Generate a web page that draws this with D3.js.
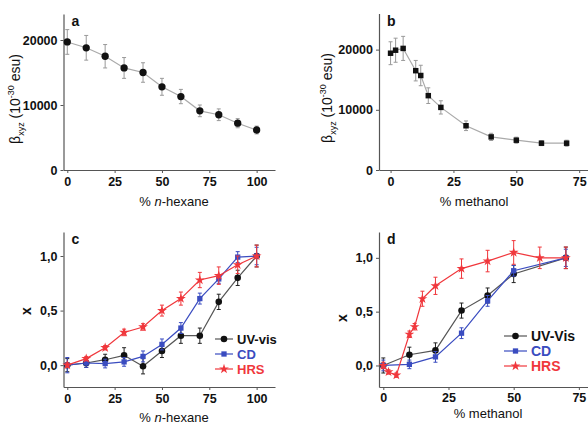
<!DOCTYPE html>
<html>
<head>
<meta charset="utf-8">
<script src="https://cdn.jsdelivr.net/npm/d3@7"></script>
<style>
  body { margin: 0; background: #fff; }
  svg text { font-family: "Liberation Sans", Arial, sans-serif; }
</style>
</head>
<body>
<svg id="chart" width="588" height="425"></svg>
<script>
// panel a: beta vs % n-hexane
const hexX = [0, 10, 20, 30, 40, 50, 60, 70, 80, 90, 100];
const betaHex = [19700, 18800, 17500, 15700, 15000, 12800, 11300, 9100, 8500, 7200, 6150];
const betaHexErr = [1900, 1900, 1800, 1600, 1500, 1300, 1100, 900, 900, 700, 600];

// panel b: beta vs % methanol
const methX = [0, 2, 5, 10, 12, 15, 20, 30, 40, 50, 60, 70];
const betaMeth = [19400, 19900, 20200, 16500, 15700, 12350, 10400, 7350, 5500, 4950, 4450, 4450];
const betaMethErr = [1900, 2000, 2000, 1700, 1700, 1300, 1100, 800, 600, 500, 400, 500];

// panel c: fraction x vs % n-hexane
const uvHex = [0, 0.02, 0.05, 0.09, -0.01, 0.13, 0.27, 0.27, 0.58, 0.80, 1.0];
const uvHexErr = [0.06, 0.04, 0.05, 0.07, 0.07, 0.06, 0.07, 0.07, 0.07, 0.07, 0.1];
const cdHex = [0, 0.02, 0.015, 0.03, 0.08, 0.19, 0.34, 0.61, 0.79, 0.99, 1.0];
const cdHexErr = [0.07, 0.04, 0.04, 0.04, 0.05, 0.05, 0.05, 0.05, 0.04, 0.05, 0.08];
const hrsHex = [0, 0.06, 0.16, 0.30, 0.35, 0.50, 0.61, 0.78, 0.82, 0.92, 1.0];
const hrsHexErr = [0.02, 0.02, 0.02, 0.03, 0.03, 0.05, 0.06, 0.07, 0.08, 0.08, 0.1];

// panel d: fraction x vs % methanol
const specMethX = [0, 10, 20, 30, 40, 50, 70];
const uvMeth = [0, 0.10, 0.14, 0.51, 0.65, 0.85, 1.0];
const uvMethErr = [0.07, 0.07, 0.07, 0.07, 0.07, 0.08, 0.1];
const cdMeth = [0, 0.01, 0.08, 0.30, 0.60, 0.88, 1.0];
const cdMethErr = [0.05, 0.04, 0.05, 0.05, 0.05, 0.05, 0.08];
const hrsMethX = [0, 2, 5, 10, 12, 15, 20, 30, 40, 50, 60, 70];
const hrsMeth = [0, -0.06, -0.09, 0.29, 0.36, 0.62, 0.74, 0.90, 0.97, 1.05, 1.0, 1.0];
const hrsMethErr = [0.03, 0.02, 0.02, 0.03, 0.03, 0.07, 0.08, 0.09, 0.1, 0.11, 0.1, 0.1];

const hexTicks = [0, 25, 50, 75, 100];
const methTicks = [0, 25, 50, 75];
const betaTicks = [0, 10000, 20000];
const fracTicks = [0, 0.5, 1.0];
const seriesNames = ["UV-vis", "CD", "HRS"];
const seriesNamesD = ["UV-Vis", "CD", "HRS"];

const svg = d3.select("#chart");
const axisColor = "#555";
const fmtFrac = d => d3.format(".1f")(d).replace(".", ",");

function panel(p) {
  const g = svg.append("g");
  const x = d3.scaleLinear().domain(p.xDomain).range(p.xRange);
  const y = d3.scaleLinear().domain(p.yDomain).range(p.yRange);

  const xAxis = g.append("g")
    .attr("transform", "translate(0," + p.yRange[0] + ")")
    .call(d3.axisBottom(x).tickValues(p.xTicks).tickSize(3).tickPadding(p.xPad || 4).tickSizeOuter(0));
  const yAxis = g.append("g")
    .attr("transform", "translate(" + p.xRange[0] + ",0)")
    .call(d3.axisLeft(y).tickValues(p.yTicks).tickSize(3).tickPadding(3).tickSizeOuter(0).tickFormat(p.yFormat));
  [xAxis, yAxis].forEach(a => {
    a.select(".domain").attr("stroke", axisColor).attr("stroke-width", 1.2);
    a.selectAll(".tick line").attr("stroke", axisColor);
    a.selectAll(".tick text").attr("fill", "#111").attr("font-size", 12.5).attr("font-weight", "bold");
  });

  p.series.forEach(s => {
    const pts = s.xs.map((xv, i) => ({x: xv, y: s.ys[i], e: s.err[i]}));
    const line = d3.line().x(d => x(d.x)).y(d => y(d.y));
    g.append("path").attr("d", line(pts))
      .attr("fill", "none").attr("stroke", s.lineColor).attr("stroke-width", 1.2);
    const eb = g.append("g").attr("stroke", s.errColor).attr("stroke-width", 1);
    pts.forEach(d => {
      eb.append("line").attr("x1", x(d.x)).attr("x2", x(d.x)).attr("y1", y(d.y - d.e)).attr("y2", y(d.y + d.e));
      eb.append("line").attr("x1", x(d.x) - 2).attr("x2", x(d.x) + 2).attr("y1", y(d.y - d.e)).attr("y2", y(d.y - d.e));
      eb.append("line").attr("x1", x(d.x) - 2).attr("x2", x(d.x) + 2).attr("y1", y(d.y + d.e)).attr("y2", y(d.y + d.e));
    });
    g.append("g").selectAll("path").data(pts).join("path")
      .attr("transform", d => "translate(" + x(d.x) + "," + y(d.y) + ")")
      .attr("d", d3.symbol().type(s.symbol).size(s.size))
      .attr("fill", s.color);
  });

  // panel letter
  g.append("text").attr("x", p.xRange[0] + 8).attr("y", p.yRange[1] + 12)
    .attr("font-size", 14).attr("font-weight", "bold").attr("fill", "#111").text(p.letter);

  // x title
  const xt = g.append("text").attr("x", p.xTitlePos[0]).attr("y", p.xTitlePos[1])
    .attr("text-anchor", "middle").attr("font-size", 13).attr("fill", "#111");
  p.xTitle(xt);

  // y title
  const yt = g.append("text")
    .attr("transform", "translate(" + p.yTitlePos[0] + "," + p.yTitlePos[1] + ") rotate(-90)")
    .attr("text-anchor", "middle").attr("font-size", 14).attr("fill", "#111");
  p.yTitle(yt);

  if (p.legend) {
    p.series.forEach((s, i) => {
      const ly = p.legend.y + i * p.legend.step;
      g.append("line").attr("x1", p.legend.x).attr("x2", p.legend.x + p.legend.len)
        .attr("y1", ly).attr("y2", ly).attr("stroke", s.lineColor).attr("stroke-width", 1.2);
      g.append("path").attr("transform", "translate(" + (p.legend.x + p.legend.len / 2) + "," + ly + ")")
        .attr("d", d3.symbol().type(s.symbol).size(s.size)).attr("fill", s.color);
      g.append("text").attr("x", p.legend.x + p.legend.len + 4).attr("y", ly + 5)
        .attr("font-size", p.legend.font).attr("font-weight", "bold").attr("fill", s.color).text(p.legend.names[i]);
    });
  }
}

function hexTitle(t) {
  t.append("tspan").text("% ");
  t.append("tspan").attr("font-style", "italic").text("n");
  t.append("tspan").text("-hexane");
}
function methTitle(t) { t.text("% methanol"); }
function betaTitle(t) {
  t.append("tspan").text("\u03B2");
  t.append("tspan").attr("font-size", 9).attr("dy", 4).text("xyz");
  t.append("tspan").attr("dy", -4).text(" (10");
  t.append("tspan").attr("font-size", 9).attr("dy", -6).text("-30");
  t.append("tspan").attr("dy", 6).text(" esu)");
}
function fracTitle(t) { t.attr("font-weight", "bold").text("x"); }

const black = "#111", blue = "#3a4cc0", red = "#f0373c";

panel({
  letter: "a", xDomain: [-2, 109.7], xRange: [63.5, 275], yDomain: [0, 24000], yRange: [170, 14],
  xTicks: hexTicks, yTicks: betaTicks, yFormat: d3.format("d"),
  xTitle: hexTitle, xTitlePos: [174, 206], yTitle: betaTitle, yTitlePos: [20, 99],
  series: [{xs: hexX, ys: betaHex, err: betaHexErr, color: black, lineColor: "#aaa", errColor: "#999", symbol: d3.symbolCircle, size: 42}]
});

panel({
  letter: "b", xDomain: [-4.6, 78.5], xRange: [379, 588], yDomain: [0, 26000], yRange: [170, 13.5],
  xTicks: methTicks, yTicks: betaTicks, yFormat: d3.format("d"),
  xTitle: methTitle, xTitlePos: [474, 206], yTitle: betaTitle, yTitlePos: [332, 98],
  series: [{xs: methX, ys: betaMeth, err: betaMethErr, color: black, lineColor: "#aaa", errColor: "#999", symbol: d3.symbolSquare, size: 30}]
});

panel({
  letter: "c", xDomain: [-2, 109.7], xRange: [63.5, 275], yDomain: [-0.2, 1.22], yRange: [387, 232],
  xTicks: hexTicks, yTicks: fracTicks, yFormat: fmtFrac,
  xTitle: hexTitle, xTitlePos: [174, 422], yTitle: fracTitle, yTitlePos: [31, 311],
  legend: {x: 215, y: 339, step: 15, len: 18, font: 13, names: seriesNames},
  series: [
    {xs: hexX, ys: uvHex, err: uvHexErr, color: black, lineColor: "#555", errColor: "#222", symbol: d3.symbolCircle, size: 34},
    {xs: hexX, ys: cdHex, err: cdHexErr, color: blue, lineColor: blue, errColor: blue, symbol: d3.symbolSquare, size: 28},
    {xs: hexX, ys: hrsHex, err: hrsHexErr, color: red, lineColor: red, errColor: red, symbol: d3.symbolStar, size: 30}
  ]
});

panel({
  letter: "d", xDomain: [-1.65, 78.5], xRange: [379, 588], yDomain: [-0.2, 1.24], yRange: [387, 232],
  xTicks: methTicks, yTicks: fracTicks, yFormat: fmtFrac, xPad: 3,
  xTitle: methTitle, xTitlePos: [488, 418], yTitle: fracTitle, yTitlePos: [347, 318],
  legend: {x: 504, y: 336, step: 15, len: 23, font: 14, names: seriesNamesD},
  series: [
    {xs: specMethX, ys: uvMeth, err: uvMethErr, color: black, lineColor: "#555", errColor: "#222", symbol: d3.symbolCircle, size: 34},
    {xs: specMethX, ys: cdMeth, err: cdMethErr, color: blue, lineColor: blue, errColor: blue, symbol: d3.symbolSquare, size: 28},
    {xs: hrsMethX, ys: hrsMeth, err: hrsMethErr, color: red, lineColor: red, errColor: red, symbol: d3.symbolStar, size: 30}
  ]
});
</script>
</body>
</html>
